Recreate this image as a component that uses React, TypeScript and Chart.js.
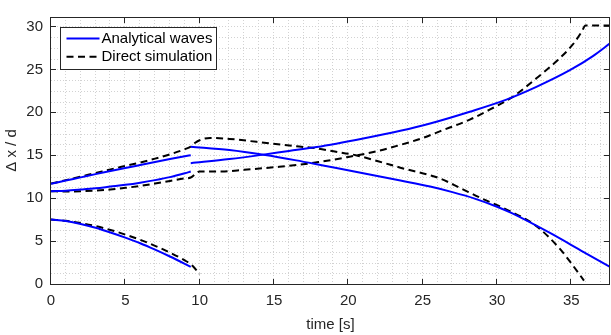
import React, { useEffect, useRef } from "react";
import { Chart, registerables } from "chart.js";

Chart.register(...registerables);

// ---------------- data ----------------
const xAxisTitle = "time [s]";
const yAxisTitle = "Δ x / d";
const legendLabels = ["Analytical waves", "Direct simulation"];

const xMin = 0;
const xMax = 37.6;
const yMin = 0;
const yMax = 31.1;
const xMajorStep = 5;
const yMajorStep = 5;
const xMinorStep = 1;
const yMinorStep = 1.25;

// Analytical waves (blue, solid) – five branches
const anBottomX = [0, 1, 2, 3, 4, 5, 6, 7, 8, 9, 9.4];
const anBottomY = [7.5, 7.33, 7.0, 6.55, 6.0, 5.4, 4.75, 4.0, 3.2, 2.35, 2.0];

const anLowX = [0, 1, 2, 3, 4, 5, 6, 7, 8, 9, 9.4];
const anLowY = [10.8, 10.87, 11.0, 11.15, 11.35, 11.55, 11.8, 12.1, 12.45, 12.9, 13.1];

const anUpX = [0, 1, 2, 3, 4, 5, 6, 7, 8, 9, 9.4];
const anUpY = [11.67, 12.05, 12.42, 12.8, 13.15, 13.5, 13.85, 14.2, 14.55, 14.88, 15.0];

const anDecX = [9.4, 12, 14.3, 16.5, 18.3, 21, 23.5, 25.5, 27, 28.5, 30, 31, 33.5, 35.8, 37.6];
const anDecY = [16.0, 15.6, 15.05, 14.4, 13.8, 12.9, 12.05, 11.35, 10.7, 9.95, 9.0, 8.25, 6.0, 3.75, 2.0];

const anIncX = [9.4, 12, 14.28, 16, 17.87, 21, 23.5, 25.5, 28.17, 30.63, 32.65, 34.9, 36.45, 37.6];
const anIncY = [14.07, 14.55, 15.07, 15.5, 15.95, 16.95, 17.85, 18.7, 20.07, 21.48, 22.96, 24.9, 26.55, 28.03];

// Direct simulation (black, dashed) – three branches
const dsBottomX = [0, 1, 2, 3, 4, 5, 6, 7, 8, 9, 9.5, 10];
const dsBottomY = [7.5, 7.36, 7.1, 6.75, 6.3, 5.75, 5.15, 4.45, 3.65, 2.75, 2.15, 1.15];

const dsLowX = [0, 1, 2, 3, 4, 5, 6, 7, 8, 9, 9.4, 10, 11.5, 13, 15, 16.5, 18, 20, 22, 23.5, 25, 26.15, 28.17, 29.5, 31, 32.65, 34, 35.1, 35.7, 35.95, 37.6];
const dsLowY = [10.8, 10.78, 10.8, 10.88, 11.0, 11.2, 11.42, 11.7, 12.0, 12.3, 12.4, 13.1, 13.1, 13.3, 13.6, 13.85, 14.2, 14.8, 15.5, 16.2, 17.0, 17.78, 19.15, 20.3, 21.74, 23.96, 25.95, 27.9, 29.4, 30.1, 30.1];

const dsUpX = [0, 1, 2, 3, 4, 5, 6, 7, 8, 9, 9.4, 9.7, 10, 10.7, 12, 13.84, 16.5, 17.87, 19, 20.5, 22, 23.5, 26.15, 27.5, 28.84, 30.86, 32.65, 34.2, 35, 35.85];
const dsUpY = [11.7, 12.1, 12.52, 12.93, 13.35, 13.75, 14.15, 14.6, 15.1, 15.7, 16.0, 16.45, 16.75, 17.02, 16.9, 16.56, 16.05, 15.8, 15.45, 15.0, 14.3, 13.55, 12.3, 11.2, 10.07, 8.5, 6.74, 4.15, 2.4, 0.4];

// ---------------- styling ----------------
const FONT = "'Liberation Sans', Arial, Helvetica, sans-serif";
const AXIS_COLOR = "#262626";
const BLUE = "#0000ff";
const BLACK = "#000000";
const DASH = [7, 4.5];

const toPoints = (xs: number[], ys: number[]) => xs.map((x, i) => ({ x, y: ys[i] }));

const matlabPlugin = {
  id: "matlabAxes",
  beforeDatasetsDraw(chart: any) {
    const { ctx, chartArea: a, scales } = chart;
    const xs = scales.x;
    const ys = scales.y;
    ctx.save();
    ctx.strokeStyle = "#d2d2d2";
    ctx.lineWidth = 1;
    ctx.setLineDash([1, 2]);
    const nx = Math.floor((xMax - xMin) / xMinorStep + 1e-9);
    for (let i = 1; i <= nx; i++) {
      const v = xMin + i * xMinorStep;
      const px = Math.round(xs.getPixelForValue(v)) - 0.5;
      if (px >= a.right - 1) continue;
      ctx.beginPath();
      ctx.moveTo(px, a.top);
      ctx.lineTo(px, a.bottom);
      ctx.stroke();
    }
    const ny = Math.floor((yMax - yMin) / yMinorStep + 1e-9);
    for (let i = 1; i <= ny; i++) {
      const v = yMin + i * yMinorStep;
      const py = Math.round(ys.getPixelForValue(v)) + 0.5;
      if (py <= a.top + 1) continue;
      ctx.beginPath();
      ctx.moveTo(a.left, py);
      ctx.lineTo(a.right, py);
      ctx.stroke();
    }
    ctx.restore();
  },
  afterDraw(chart: any) {
    const { ctx, chartArea: a, scales } = chart;
    const xs = scales.x;
    const ys = scales.y;
    ctx.save();
    ctx.setLineDash([]);
    ctx.strokeStyle = AXIS_COLOR;
    ctx.lineWidth = 1;
    const L = Math.round(a.left) - 0.5;
    const R = Math.round(a.right) - 0.5;
    const T = Math.round(a.top) + 0.5;
    const B = Math.round(a.bottom) + 0.5;
    ctx.strokeRect(L, T, R - L, B - T);
    const tl = 5.5;
    ctx.beginPath();
    for (let v = xMin; v <= xMax + 1e-9; v += xMajorStep) {
      const px = Math.round(xs.getPixelForValue(v)) - 0.5;
      ctx.moveTo(px, B);
      ctx.lineTo(px, B - tl);
      ctx.moveTo(px, T);
      ctx.lineTo(px, T + tl);
    }
    for (let v = yMin; v <= yMax + 1e-9; v += yMajorStep) {
      const py = Math.round(ys.getPixelForValue(v)) + 0.5;
      ctx.moveTo(L, py);
      ctx.lineTo(L + tl, py);
      ctx.moveTo(R, py);
      ctx.lineTo(R - tl, py);
    }
    ctx.stroke();

    // legend
    const lx = Math.round(a.left) + 9.5;
    const ly = Math.round(a.top) + 10.5;
    const lw = 156;
    const lh = 42;
    ctx.fillStyle = "#ffffff";
    ctx.fillRect(lx, ly, lw, lh);
    ctx.strokeStyle = AXIS_COLOR;
    ctx.lineWidth = 1;
    ctx.strokeRect(lx, ly, lw, lh);
    const rows = [
      { color: BLUE, dash: [] as number[], label: legendLabels[0], y: ly + 11 },
      { color: BLACK, dash: DASH, label: legendLabels[1], y: ly + 29.3 },
    ];
    for (const r of rows) {
      ctx.beginPath();
      ctx.strokeStyle = r.color;
      ctx.lineWidth = 2;
      ctx.setLineDash(r.dash);
      ctx.moveTo(lx + 6, r.y);
      ctx.lineTo(lx + 39, r.y);
      ctx.stroke();
      ctx.setLineDash([]);
      ctx.fillStyle = "#000000";
      ctx.font = `15px ${FONT}`;
      ctx.textBaseline = "middle";
      ctx.textAlign = "left";
      ctx.fillText(r.label, lx + 41, r.y + 0.5);
    }
    ctx.restore();
  },
};

export default function App() {
  const canvasRef = useRef<HTMLCanvasElement | null>(null);

  useEffect(() => {
    document.body.style.margin = "0";
    const canvas = canvasRef.current;
    if (!canvas) return;

    const solid = (xs: number[], ys: number[], label: string) => ({
      label,
      data: toPoints(xs, ys),
      borderColor: BLUE,
      backgroundColor: BLUE,
      borderWidth: 2,
      pointRadius: 0,
      fill: false,
      cubicInterpolationMode: "monotone" as const,
    });
    const dashed = (xs: number[], ys: number[], label: string) => ({
      label,
      data: toPoints(xs, ys),
      borderColor: BLACK,
      backgroundColor: BLACK,
      borderWidth: 2,
      borderDash: DASH,
      pointRadius: 0,
      fill: false,
      cubicInterpolationMode: "monotone" as const,
    });

    const chart = new Chart(canvas, {
      type: "line",
      data: {
        datasets: [
          solid(anBottomX, anBottomY, legendLabels[0]),
          solid(anLowX, anLowY, legendLabels[0]),
          solid(anUpX, anUpY, legendLabels[0]),
          solid(anDecX, anDecY, legendLabels[0]),
          solid(anIncX, anIncY, legendLabels[0]),
          dashed(dsBottomX, dsBottomY, legendLabels[1]),
          dashed(dsLowX, dsLowY, legendLabels[1]),
          dashed(dsUpX, dsUpY, legendLabels[1]),
        ],
      },
      options: {
        animation: false,
        responsive: false,
        maintainAspectRatio: false,
        devicePixelRatio: 1,
        layout: { padding: { top: 4, right: 1, left: 0, bottom: 0 } },
        plugins: {
          legend: { display: false },
          tooltip: { enabled: false },
        },
        scales: {
          x: {
            type: "linear",
            min: xMin,
            max: xMax,
            grid: { display: false, drawTicks: false },
            border: { display: false },
            ticks: {
              stepSize: xMajorStep,
              includeBounds: false,
              padding: 8,
              maxRotation: 0,
              autoSkip: false,
              color: AXIS_COLOR,
              font: { family: FONT, size: 15 },
            },
            title: {
              display: true,
              text: xAxisTitle,
              color: AXIS_COLOR,
              font: { family: FONT, size: 15 },
              padding: { top: 0, bottom: 1 },
            },
            afterFit: (s: any) => {
              s.height = 51;
            },
          },
          y: {
            type: "linear",
            min: yMin,
            max: yMax,
            grid: { display: false, drawTicks: false },
            border: { display: false },
            ticks: {
              stepSize: yMajorStep,
              includeBounds: false,
              padding: 8,
              autoSkip: false,
              color: AXIS_COLOR,
              font: { family: FONT, size: 15 },
            },
            title: {
              display: true,
              text: yAxisTitle,
              color: AXIS_COLOR,
              font: { family: FONT, size: 15 },
              padding: { top: 3, bottom: 0 },
            },
            afterFit: (s: any) => {
              s.width = 51;
            },
          },
        },
      },
      plugins: [matlabPlugin],
    });

    return () => chart.destroy();
  }, []);

  return (
    <div style={{ width: 611, height: 335 }}>
      <canvas ref={canvasRef} width={611} height={335} style={{ display: "block", width: 611, height: 335 }} />
    </div>
  );
}
